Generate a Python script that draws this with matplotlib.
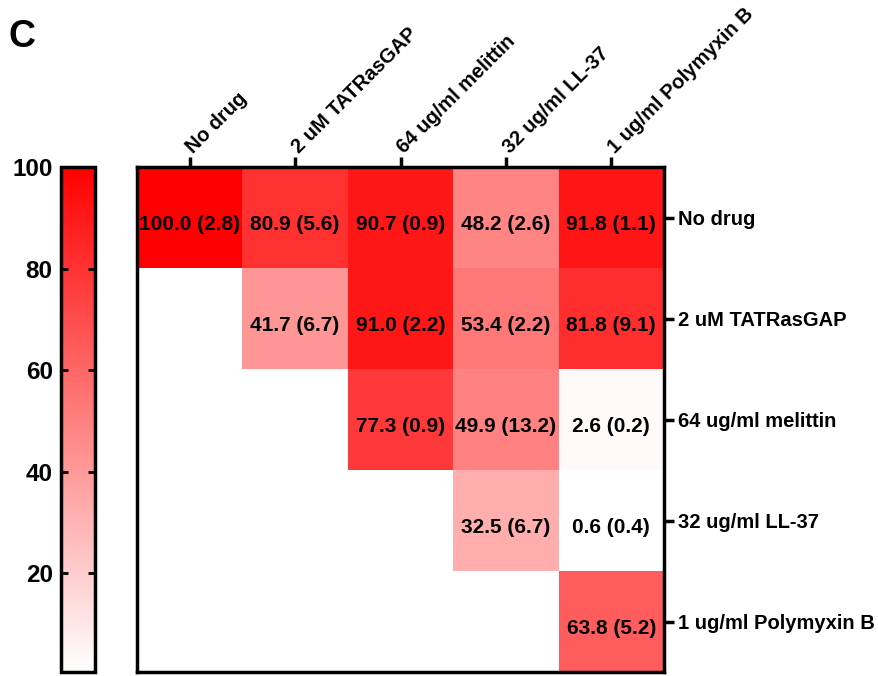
import numpy as np
import matplotlib.pyplot as plt
from matplotlib.colors import LinearSegmentedColormap

plt.rcParams['font.family'] = ['Liberation Sans', 'DejaVu Sans']
plt.rcParams['font.weight'] = 'bold'

# Traitements (mêmes étiquettes en lignes et en colonnes)
treatments = ["No drug", "2 uM TATRasGAP", "64 ug/ml melittin",
              "32 ug/ml LL-37", "1 ug/ml Polymyxin B"]

# Moyennes par ligne (triangle supérieur), NaN = case vide
row_no_drug = [100.0, 80.9, 90.7, 48.2, 91.8]
row_tatrasgap = [np.nan, 41.7, 91.0, 53.4, 81.8]
row_melittin = [np.nan, np.nan, 77.3, 49.9, 2.6]
row_ll37 = [np.nan, np.nan, np.nan, 32.5, 0.6]
row_polymyxin = [np.nan, np.nan, np.nan, np.nan, 63.8]

# Écarts-types correspondants
sd_no_drug = [2.8, 5.6, 0.9, 2.6, 1.1]
sd_tatrasgap = [np.nan, 6.7, 2.2, 2.2, 9.1]
sd_melittin = [np.nan, np.nan, 0.9, 13.2, 0.2]
sd_ll37 = [np.nan, np.nan, np.nan, 6.7, 0.4]
sd_polymyxin = [np.nan, np.nan, np.nan, np.nan, 5.2]

cbar_ticks = [20, 40, 60, 80, 100]

means = np.array([row_no_drug, row_tatrasgap, row_melittin, row_ll37, row_polymyxin])
sds = np.array([sd_no_drug, sd_tatrasgap, sd_melittin, sd_ll37, sd_polymyxin])
vmin, vmax = np.nanmin(means), np.nanmax(means)

cmap = LinearSegmentedColormap.from_list("white_red", ["#ffffff", "#ff0000"])
cmap.set_bad("white")

fig = plt.figure(figsize=(8.79, 6.76), dpi=100)
ax = fig.add_axes([0.1559, 0.0059, 0.5995, 0.747])
cax = fig.add_axes([0.0694, 0.0059, 0.0387, 0.747])

im = ax.imshow(np.ma.masked_invalid(means), cmap=cmap, vmin=vmin, vmax=vmax,
               aspect='auto', interpolation='nearest')

# Valeurs dans les cases : moyenne (écart-type)
n = len(treatments)
for i in range(n):
    for j in range(n):
        if not np.isnan(means[i, j]):
            ax.text(j, i + 0.07, f"{means[i, j]:.1f} ({sds[i, j]:.1f})",
                    ha='center', va='center', fontsize=15, fontweight='bold')

# Axes : étiquettes en haut (inclinées) et à droite
ax.set_xticks(range(n))
ax.set_yticks(range(n))
ax.xaxis.tick_top()
ax.yaxis.tick_right()
ax.set_xticklabels(treatments, rotation=45, ha='left', va='center',
                   rotation_mode='anchor', fontsize=14.5, fontweight='bold')
ax.set_yticklabels(treatments, fontsize=14.5, fontweight='bold')
ax.tick_params(axis='both', length=7, width=2.5, pad=3)
ax.tick_params(axis='x', pad=5)
for s in ax.spines.values():
    s.set_linewidth(2.5)

# Barre de couleur à gauche
cb = fig.colorbar(im, cax=cax, ticks=cbar_ticks)
cb.outline.set_linewidth(2.5)
cax.yaxis.set_ticks_position('both')
cax.tick_params(direction='in', length=5, width=2, labelleft=True,
                labelright=False, labelsize=17.5, pad=6)
for lab in cax.get_yticklabels():
    lab.set_fontweight('bold')

fig.text(0.01, 0.93, "C", fontsize=27, fontweight='bold', ha='left', va='baseline')

plt.savefig("out.png", dpi=100)
